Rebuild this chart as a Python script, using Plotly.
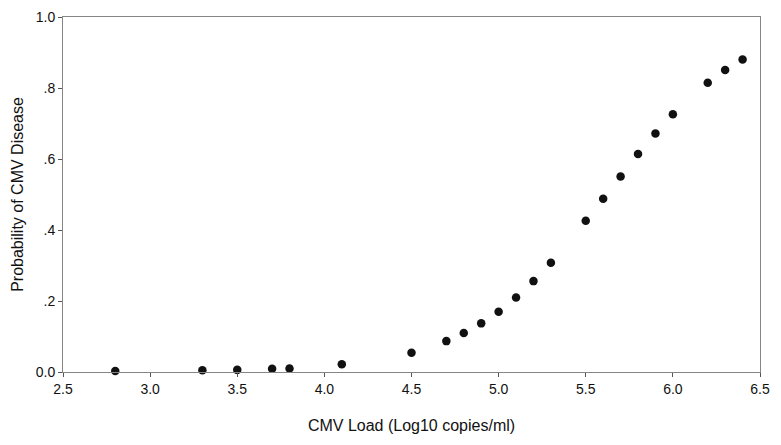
import plotly.graph_objects as go

cmv_load = [2.8, 3.3, 3.5, 3.7, 3.8, 4.1, 4.5, 4.7, 4.8, 4.9, 5.0, 5.1, 5.2, 5.3,
            5.5, 5.6, 5.7, 5.8, 5.9, 6.0, 6.2, 6.3, 6.4]
probability = [0.003, 0.005, 0.006, 0.009, 0.010, 0.022, 0.054, 0.087, 0.110, 0.137,
               0.170, 0.210, 0.256, 0.308, 0.426, 0.488, 0.551, 0.614, 0.672, 0.726,
               0.815, 0.851, 0.880]

x_ticks = [2.5, 3.0, 3.5, 4.0, 4.5, 5.0, 5.5, 6.0, 6.5]
x_labels = ["2.5", "3.0", "3.5", "4.0", "4.5", "5.0", "5.5", "6.0", "6.5"]
y_ticks = [0.0, 0.2, 0.4, 0.6, 0.8, 1.0]
y_labels = ["0.0", ".2", ".4", ".6", ".8", "1.0"]

fig = go.Figure()
fig.add_trace(go.Scatter(
    x=cmv_load, y=probability, mode="markers",
    marker=dict(size=8.5, color="#111111"),
    showlegend=False, cliponaxis=False,
))

font = "Liberation Sans, Arial, sans-serif"
# page body has an 8px margin, so the figure is sized/offset to compensate
fig.update_layout(
    width=773, height=437,
    margin=dict(l=55, r=21, t=9, b=73),
    paper_bgcolor="white", plot_bgcolor="white",
    font=dict(family=font, size=14, color="#111111"),
    xaxis=dict(
        range=[2.5, 6.5], tickvals=x_ticks, ticktext=x_labels,
        showgrid=False, zeroline=False, automargin=False,
        showline=True, linecolor="#858585", linewidth=1, mirror=True,
        ticks="outside", ticklen=4, tickcolor="#555555",
        tickfont=dict(size=14),
        title=dict(text="CMV Load (Log10 copies/ml)", font=dict(size=16), standoff=24),
    ),
    yaxis=dict(
        range=[0, 1.0], tickvals=y_ticks, ticktext=y_labels,
        showgrid=False, zeroline=False, automargin=False,
        showline=True, linecolor="#858585", linewidth=1, mirror=True,
        ticks="outside", ticklen=4, tickcolor="#555555",
        tickfont=dict(size=14),
        title=dict(text="Probability of CMV Disease", font=dict(size=16), standoff=8),
    ),
)

fig.write_html("out.html")
